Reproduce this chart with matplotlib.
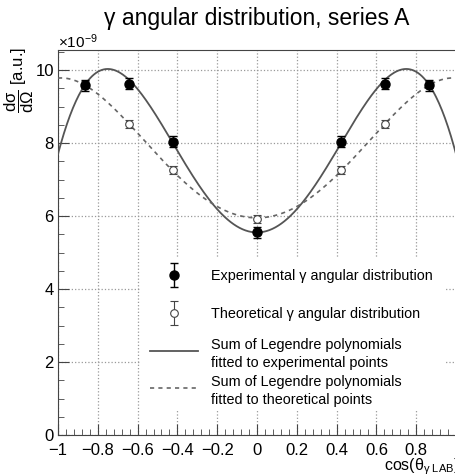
import numpy as np
import matplotlib
matplotlib.use("Agg")
import matplotlib.pyplot as plt
from matplotlib.legend import Legend
from matplotlib.legend_handler import HandlerErrorbar
from matplotlib.patches import Rectangle
from numpy.polynomial import legendre

plt.rcParams["font.family"] = ["Liberation Sans", "DejaVu Sans"]
plt.rcParams["mathtext.fontset"] = "custom"
plt.rcParams["mathtext.rm"] = "Liberation Sans"
plt.rcParams["mathtext.it"] = "Liberation Sans"
plt.rcParams["mathtext.bf"] = "Liberation Sans:bold"

# values in units of 1e-9 (a.u.)
cos_theta = [-0.866, -0.643, -0.423, 0.0, 0.423, 0.643, 0.866]
exp_values = [9.59, 9.62, 8.03, 5.55, 8.03, 9.63, 9.59]
exp_errors = [0.15, 0.15, 0.15, 0.15, 0.15, 0.15, 0.15]
theo_values = [9.60, 8.52, 7.26, 5.92, 7.26, 8.52, 9.60]
theo_errors = [0.10, 0.10, 0.10, 0.10, 0.10, 0.10, 0.10]

# Legendre coefficients (P0..Pn) of the fitted curves
exp_fit_coeffs = [8.0745, 0.0, 2.616, 0.0, -3.128, 0.0, 0.1375]
theo_fit_coeffs = [7.7724, 0.0, 2.943, 0.0, -0.9355]

x_ticks = [-1, -0.8, -0.6, -0.4, -0.2, 0, 0.2, 0.4, 0.6, 0.8]
y_ticks = [0, 2, 4, 6, 8, 10]

legend_labels = ["Experimental \u03b3 angular distribution",
                 "Theoretical \u03b3 angular distribution",
                 "Sum of Legendre polynomials\nfitted to experimental points",
                 "Sum of Legendre polynomials\nfitted to theoretical points"]


def main():
    W, H = 456, 476
    fig = plt.figure(figsize=(W / 100, H / 100), dpi=100)
    ax = fig.add_axes([58 / W, 1 - 435 / H, (456 - 58) / W, (435 - 50) / H])

    xs = np.linspace(-1, 1, 400)
    line_exp, = ax.plot(xs, legendre.legval(xs, exp_fit_coeffs), color="#555555", lw=1.3, zorder=3)
    line_theo, = ax.plot(xs, legendre.legval(xs, theo_fit_coeffs), color="#666666", lw=1.2,
                         dashes=(2.5, 2.5), zorder=3)

    eb_exp = ax.errorbar(cos_theta, exp_values, yerr=exp_errors, fmt="o", color="black",
                         ms=6.5, capsize=3, elinewidth=1, capthick=1, zorder=5)
    eb_theo = ax.errorbar(cos_theta, theo_values, yerr=theo_errors, fmt="o", color="#444444",
                          mfc="white", mec="#444444", ms=5.5, mew=0.8, capsize=3,
                          elinewidth=0.8, capthick=0.8, zorder=4)

    ax.set_xlim(-1, 1)
    ax.set_ylim(0, 10.55)
    ax.set_xticks(x_ticks)
    ax.set_xticklabels([f"{t:g}".replace("-", "\u2212") for t in x_ticks])
    ax.set_yticks(y_ticks)
    ax.set_xticks(np.arange(-1, 1.0001, 0.04), minor=True)
    ax.set_yticks(np.arange(0, 10.6, 0.5), minor=True)
    ax.tick_params(which="both", direction="in", color="#444444", labelsize=12)
    ax.tick_params(axis="x", which="major", length=8, pad=5.5)
    ax.tick_params(axis="y", which="major", length=8, pad=3)
    ax.tick_params(which="minor", length=4)
    ax.grid(True, which="major", ls=":", color="#999999", lw=0.9)
    ax.spines["right"].set_visible(False)
    for s in ("left", "bottom", "top"):
        ax.spines[s].set_color("#444444")

    # white legend background hiding the grid
    ax.add_patch(Rectangle((140 / W, 1 - 410 / H), 306 / W, 152 / H, transform=fig.transFigure,
                           facecolor="white", edgecolor="none", zorder=2))

    fs = 10.4
    handles = [eb_exp, eb_theo, line_exp, line_theo]
    centers = [276, 314, 354, 391]
    for handle, label, yc in zip(handles, legend_labels, centers):
        two_lines = "\n" in label
        leg = Legend(ax, [handle], [label],
                     handler_map={type(eb_exp): HandlerErrorbar(yerr_size=0.83)},
                     loc="center left", bbox_to_anchor=(150 / W, 1 - yc / H),
                     bbox_transform=fig.transFigure, borderaxespad=0, borderpad=0,
                     fontsize=fs, numpoints=1, handlelength=3.33,
                     handleheight=2.15 if two_lines else 0.7,
                     handletextpad=0.9, frameon=False)
        for t in leg.get_texts():
            t.set_linespacing(1.3)
        ax.add_artist(leg)

    fig.text(257 / W, 1 - 18 / H, "\u03b3 angular distribution, series A",
             ha="center", va="center", fontsize=16.5)
    fig.text(58 / W, 1 - 42 / H, r"$\times10^{-9}$", ha="left", va="center", fontsize=11)
    fig.text(19 / W, 1 - 80 / H, r"$\dfrac{\mathrm{d}\sigma}{\mathrm{d}\Omega}$ [a.u.]",
             rotation=90, ha="center", va="center", fontsize=12)
    fig.text(384 / W, 1 - 467 / H, r"cos($\theta_{\gamma\ \mathrm{LAB}}$)",
             ha="left", va="center", fontsize=11.5)

    fig.savefig("out.png", dpi=100)


if __name__ == "__main__":
    main()
